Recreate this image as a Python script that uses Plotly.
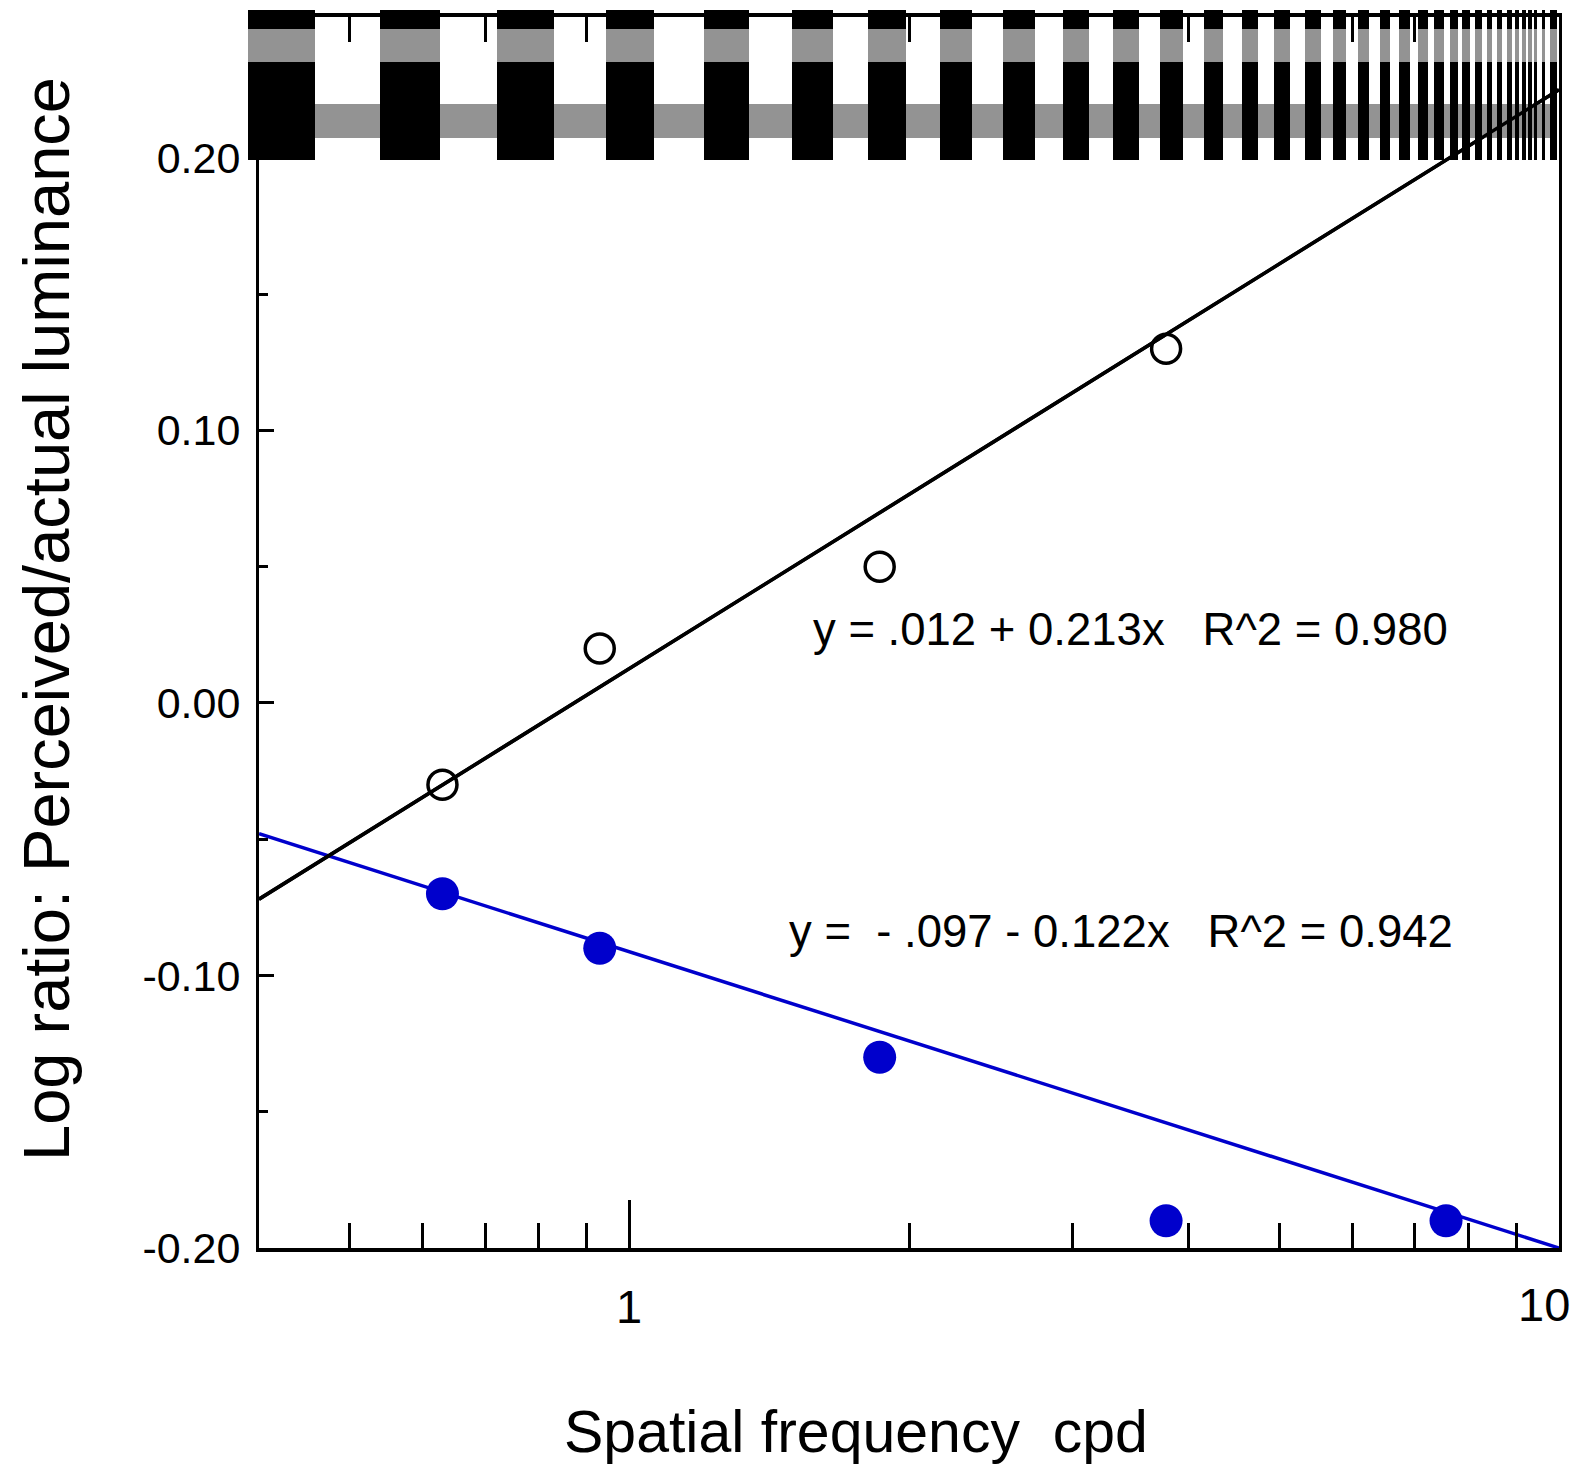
import math

import plotly.graph_objects as go

# spatial frequency (cpd) of the test gratings
freq = [0.63, 0.93, 1.86, 3.78, 7.56]
# log ratio perceived/actual luminance
open_ratio = [-0.03, 0.02, 0.05, 0.13]
filled_ratio = [-0.07, -0.09, -0.13, -0.19, -0.19]

# regression lines as drawn (ends at the axis limits)
fit_x = [0.4, 10]
open_fit = [-0.072, 0.225]
filled_fit = [-0.048, -0.200]

open_eq = "y = .012 + 0.213x   R^2 = 0.980"
filled_eq = "y =  - .097 - 0.122x   R^2 = 0.942"

y_ticks = [-0.2, -0.1, 0.0, 0.1, 0.2]
y_tick_labels = ["-0.20", "-0.10", "0.00", "0.10", "0.20"]
y_minor = [-0.15, -0.05, 0.05, 0.15]
x_ticks = [1, 10]
x_tick_labels = ["1", "10"]
x_minor = [0.4, 0.5, 0.6, 0.7, 0.8, 0.9, 2, 3, 4, 5, 6, 7, 8, 9]

# grating strip along the top: black bar edges, in page pixels
grating_bars = [
    (248, 315), (380, 440), (497, 554), (606, 654), (704, 749), (792, 833),
    (868, 906), (940, 972), (1003, 1035), (1063, 1089), (1113, 1139),
    (1160, 1183), (1204, 1223), (1242, 1258), (1274, 1290), (1305, 1321),
    (1333, 1346), (1358, 1369), (1380, 1390), (1399, 1410), (1418, 1428),
    (1434, 1444), (1450, 1458), (1462, 1470), (1475, 1482), (1487, 1492),
    (1497, 1502), (1507, 1512), (1515, 1519), (1522, 1526), (1528, 1532),
    (1534, 1537), (1542, 1545), (1550, 1557),
]

# page is 1579x1470; the figure div sits 8px in from the body edge
OFF = 8
W, H = 1579 - OFF, 1470 - OFF
L, R, T, B = 259, 1559, 17, 1248  # plot area, page pixels
FONT = "Liberation Sans, Arial, Helvetica, sans-serif"
BLUE = "#0000cc"
GRAY = "#939393"


def dx(px):
    return (px - L) / (R - L)


def dy(py):
    return (B - py) / (B - T)


def rect(x0, x1, y0, y1, color):
    return dict(type="rect", xref="x domain", yref="y domain",
                x0=dx(x0), x1=dx(x1), y0=dy(y1), y1=dy(y0),
                fillcolor=color, line=dict(width=0), layer="above")


fig = go.Figure()

fig.add_trace(go.Scatter(x=fit_x, y=filled_fit, mode="lines",
                         line=dict(color=BLUE, width=3.5), showlegend=False))
fig.add_trace(go.Scatter(x=fit_x, y=open_fit, mode="lines",
                         line=dict(color="black", width=3.5), showlegend=False))
fig.add_trace(go.Scatter(x=freq[:len(open_ratio)], y=open_ratio, mode="markers",
                         marker=dict(symbol="circle-open", size=29, color="black",
                                     line=dict(width=3.5)),
                         showlegend=False))
fig.add_trace(go.Scatter(x=freq, y=filled_ratio, mode="markers",
                         marker=dict(symbol="circle", size=33, color=BLUE),
                         showlegend=False))

shapes = [rect(grating_bars[0][1], grating_bars[-1][1], 104, 138, GRAY)]
for a, b in grating_bars:
    shapes.append(rect(a, b, 10, 160, "black"))
    shapes.append(rect(a, b, 29, 62, GRAY))
# regression line crosses over the grating strip
shapes.append(dict(type="line", xref="x", yref="y", x0=fit_x[0], x1=fit_x[1],
                   y0=open_fit[0], y1=open_fit[1],
                   line=dict(color="black", width=3.5), layer="above"))
fig.update_layout(shapes=shapes)

fig.add_annotation(text=open_eq.replace(" ", "\u00a0"), xref="paper", yref="paper",
                   x=dx(811), y=dy(629), xanchor="left", yanchor="middle",
                   showarrow=False, font=dict(size=45.5, color="black"))
fig.add_annotation(text=filled_eq.replace(" ", "\u00a0"), xref="paper", yref="paper",
                   x=dx(787), y=dy(931), xanchor="left", yanchor="middle",
                   showarrow=False, font=dict(size=45.5, color="black"))
fig.add_annotation(text="Spatial frequency\u00a0\u00a0cpd", xref="paper", yref="paper",
                   x=dx(856), y=dy(1432), xanchor="center", yanchor="middle",
                   showarrow=False, font=dict(size=59, color="black"))
fig.add_annotation(text="Log ratio: Perceived/actual luminance", xref="paper",
                   yref="paper", x=dx(46), y=dy(619), textangle=-90,
                   xanchor="center", yanchor="middle",
                   showarrow=False, font=dict(size=65, color="black"))
# the last tick label sits left of the axis end instead of centred on it
fig.add_annotation(text=x_tick_labels[-1], xref="x", yref="paper",
                   x=math.log10(x_ticks[-1]), y=dy(1304), xanchor="right",
                   yanchor="middle", xshift=13, showarrow=False,
                   font=dict(size=47, color="black"))

x_text = x_tick_labels[:-1] + [""]

fig.update_xaxes(type="log", range=[math.log10(fit_x[0]), 1], showgrid=False,
                 zeroline=False, showline=True, linecolor="black", linewidth=4,
                 mirror="allticks", ticks="inside", ticklen=48, tickwidth=3,
                 tickcolor="black", tickvals=x_ticks, ticktext=x_text,
                 ticklabelstandoff=15, automargin=False,
                 tickfont=dict(size=47, color="black"),
                 minor=dict(ticks="inside", ticklen=25, tickwidth=3,
                            tickcolor="black", tickvals=x_minor, showgrid=False))
fig.update_yaxes(range=[-0.2, 0.2517], showgrid=False, zeroline=False,
                 showline=True, linecolor="black", linewidth=3, mirror=True,
                 ticks="inside", ticklen=15, tickwidth=3, tickcolor="black",
                 tickvals=y_ticks, ticktext=y_tick_labels, ticklabelstandoff=7,
                 automargin=False, tickfont=dict(size=43, color="black"),
                 minor=dict(ticks="inside", ticklen=9, tickwidth=3,
                            tickcolor="black", tickvals=y_minor, showgrid=False))

fig.update_layout(width=W, height=H, plot_bgcolor="white", paper_bgcolor="white",
                  font=dict(family=FONT, color="black"),
                  margin=dict(l=L - OFF, r=W + OFF - R, t=T - OFF, b=H + OFF - B,
                              pad=0, autoexpand=False),
                  showlegend=False)

fig.write_html("out.html")
